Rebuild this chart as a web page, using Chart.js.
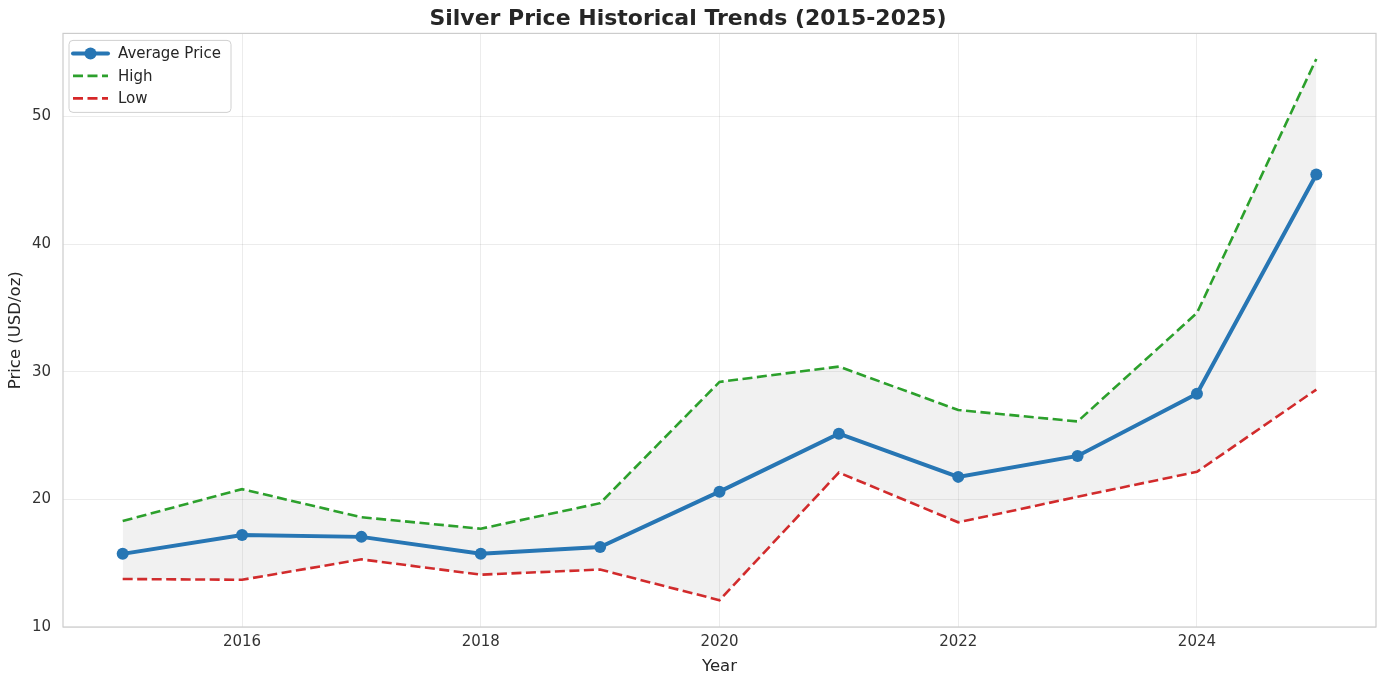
<!DOCTYPE html>
<html>
<head>
<meta charset="utf-8">
<script src="https://cdn.jsdelivr.net/npm/chart.js@4"></script>
<style>
html,body{margin:0;padding:0;background:#fff;}
#wrap{width:1382px;height:683px;position:relative;}
</style>
</head>
<body>
<div id="wrap"><canvas id="c"></canvas></div>
<script>
const years = [2015, 2016, 2017, 2018, 2019, 2020, 2021, 2022, 2023, 2024, 2025];
const avgPrice = [15.73, 17.2, 17.06, 15.73, 16.27, 20.6, 25.14, 21.76, 23.4, 28.27, 45.45];
const highPrice = [18.3, 20.8, 18.6, 17.7, 19.7, 29.2, 30.4, 27.0, 26.1, 34.6, 54.5];
const lowPrice = [13.76, 13.7, 15.3, 14.1, 14.5, 12.1, 22.1, 18.2, 20.2, 22.16, 28.6];
const xTicks = [2016, 2018, 2020, 2022, 2024];
const yTicks = [10, 20, 30, 40, 50];

const FONT = "'DejaVu Sans', sans-serif";
const BLUE = '#2776b4', GREEN = '#2ca02c', RED = '#d62728';
const pts = arr => years.map((y, i) => ({x: y, y: arr[i]}));

const framePlugin = {
  id: 'frame',
  afterDatasetsDraw(chart) {
    const a = chart.chartArea, ctx = chart.ctx;
    ctx.save();
    ctx.strokeStyle = '#cccccc';
    ctx.lineWidth = 1.2;
    ctx.strokeRect(a.left, a.top, a.right - a.left, a.bottom - a.top);
    ctx.restore();
  }
};

const legendPlugin = {
  id: 'innerLegend',
  afterDraw(chart) {
    const ctx = chart.ctx, a = chart.chartArea;
    const x0 = a.left + 6, y0 = a.top + 7, w = 162, h = 72;
    ctx.save();
    ctx.beginPath();
    if (ctx.roundRect) ctx.roundRect(x0, y0, w, h, 4); else ctx.rect(x0, y0, w, h);
    ctx.fillStyle = 'rgba(255,255,255,0.85)';
    ctx.fill();
    ctx.strokeStyle = '#d0d0d0';
    ctx.lineWidth = 1;
    ctx.stroke();
    const items = chart.data.datasets;
    ctx.font = "15px " + FONT;
    ctx.textBaseline = 'middle';
    items.forEach((ds, i) => {
      const cy = y0 + 13 + i * 22.5;
      const lx1 = x0 + 4, lx2 = x0 + 39;
      ctx.beginPath();
      ctx.setLineDash(ds.borderDash || []);
      ctx.strokeStyle = ds.borderColor;
      ctx.lineWidth = ds.borderWidth;
      ctx.lineCap = ds.borderDash ? 'butt' : 'round';
      ctx.moveTo(lx1, cy); ctx.lineTo(lx2, cy);
      ctx.stroke();
      ctx.setLineDash([]);
      if (ds.pointRadius > 0) {
        ctx.beginPath();
        ctx.arc((lx1 + lx2) / 2, cy, ds.pointRadius, 0, Math.PI * 2);
        ctx.fillStyle = ds.borderColor;
        ctx.fill();
      }
      ctx.fillStyle = '#262626';
      ctx.fillText(ds.label, x0 + 49, cy + 1);
    });
    ctx.restore();
  }
};

new Chart(document.getElementById('c'), {
  type: 'line',
  data: {
    datasets: [
      {
        label: 'Average Price', data: pts(avgPrice), borderColor: BLUE, backgroundColor: BLUE,
        borderWidth: 4, pointRadius: 6, pointHoverRadius: 6, pointBackgroundColor: BLUE,
        pointBorderWidth: 0, fill: false, tension: 0
      },
      {
        label: 'High', data: pts(highPrice), borderColor: GREEN, borderWidth: 2.6,
        borderDash: [10, 4.5], pointRadius: 0, fill: '+1',
        backgroundColor: 'rgba(128,128,128,0.11)', tension: 0
      },
      {
        label: 'Low', data: pts(lowPrice), borderColor: RED, borderWidth: 2.6,
        borderDash: [10, 4.5], pointRadius: 0, fill: false, tension: 0
      }
    ]
  },
  options: {
    responsive: true,
    maintainAspectRatio: false,
    animation: false,
    layout: {padding: {left: 0, right: 6, top: 0, bottom: 0}},
    plugins: {
      legend: {display: false},
      tooltip: {enabled: false},
      title: {
        display: true, text: 'Silver Price Historical Trends (2015-2025)',
        color: '#262626', font: {family: FONT, size: 22, weight: 'bold', lineHeight: 1.2},
        padding: {top: 6, bottom: 1}
      }
    },
    scales: {
      x: {
        type: 'linear', min: 2014.5, max: 2025.5,
        afterBuildTicks: s => { s.ticks = xTicks.map(v => ({value: v})); },
        afterFit: s => { s.height = 56; },
        ticks: {color: '#333333', font: {family: FONT, size: 15}, padding: 6,
          callback: v => String(v), maxRotation: 0, autoSkip: false},
        grid: {color: 'rgba(0,0,0,0.075)', lineWidth: 1, drawTicks: false},
        border: {display: false},
        title: {display: true, text: 'Year', color: '#262626',
          font: {family: FONT, size: 16.5}, padding: {top: 4, bottom: 6}}
      },
      y: {
        type: 'linear', min: 10, max: 56.5,
        afterBuildTicks: s => { s.ticks = yTicks.map(v => ({value: v})); },
        afterFit: s => { s.width = 63; },
        ticks: {color: '#333333', font: {family: FONT, size: 15}, padding: 12,
          callback: v => String(v)},
        grid: {color: 'rgba(0,0,0,0.075)', lineWidth: 1, drawTicks: false},
        border: {display: false},
        title: {display: true, text: 'Price (USD/oz)', color: '#262626',
          font: {family: FONT, size: 16.5}, padding: {top: 6, bottom: 4}}
      }
    }
  },
  plugins: [framePlugin, legendPlugin]
});
</script>
</body>
</html>
